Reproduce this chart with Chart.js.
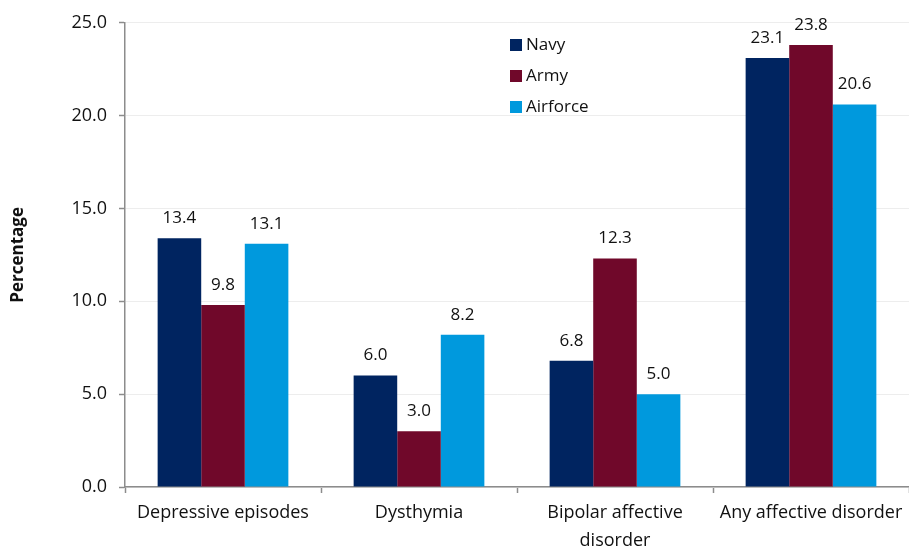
<!DOCTYPE html>
<html>
<head>
<meta charset="utf-8">
<script src="https://cdn.jsdelivr.net/npm/chart.js@4"></script>
<style>
  html, body { margin: 0; padding: 0; background: #fff; }
  #wrap { width: 909px; height: 547px; }
</style>
</head>
<body>
<div id="wrap"><canvas id="affectChart"></canvas></div>
<script>
const categories = ["Depressive episodes", "Dysthymia", ["Bipolar affective", "disorder"], "Any affective disorder"];
const navy = [13.4, 6.0, 6.8, 23.1];
const army = [9.8, 3.0, 12.3, 23.8];
const airforce = [13.1, 8.2, 5.0, 20.6];
const yTicks = [0, 5, 10, 15, 20, 25];

const FONT = "'Open Sans', 'Liberation Sans', sans-serif";

/// Draw value labels above each bar
const valueLabels = {
    id: 'valueLabels',
    afterDatasetsDraw(chart) {
        const ctx = chart.ctx;
        ctx.save();
        ctx.font = '17px ' + FONT;
        ctx.fillStyle = '#111';
        ctx.textAlign = 'center';
        ctx.textBaseline = 'middle';
        chart.data.datasets.forEach((ds, i) => {
            chart.getDatasetMeta(i).data.forEach((bar, j) => {
                ctx.fillText(ds.data[j].toFixed(1), bar.x, bar.y - 20);
            });
        });
        ctx.restore();
    }
};

/// Vertical legend inside the plot
const boxLegend = {
    id: 'boxLegend',
    afterDraw(chart) {
        const ctx = chart.ctx;
        ctx.save();
        ctx.font = '17px ' + FONT;
        ctx.textBaseline = 'middle';
        chart.data.datasets.forEach((ds, i) => {
            const y = 45 + i * 31;
            ctx.fillStyle = ds.backgroundColor;
            ctx.fillRect(510, y - 6, 12, 12);
            ctx.fillStyle = '#111';
            ctx.fillText(ds.label, 526, y);
        });
        ctx.restore();
    }
};

new Chart("affectChart", {
    type: "bar",
    data: {
        labels: categories,
        datasets: [
            { label: "Navy", backgroundColor: "rgb(0, 36, 96)", data: navy },
            { label: "Army", backgroundColor: "rgb(112, 8, 42)", data: army },
            { label: "Airforce", backgroundColor: "rgb(0, 153, 221)", data: airforce }
        ]
    },
    options: {
        responsive: true,
        maintainAspectRatio: false,
        animation: false,
        layout: { padding: { top: 22, right: 0, left: 8, bottom: 0 } },
        datasets: {
            bar: { categoryPercentage: 0.667, barPercentage: 1.0 }
        },
        plugins: {
            legend: { display: false },
            tooltip: { enabled: false }
        },
        scales: {
            x: {
                afterFit(scale) { scale.height = 60; },
                border: { color: '#8c8c8c', width: 1.5 },
                grid: {
                    offset: true,
                    drawOnChartArea: false,
                    drawTicks: true,
                    tickLength: 6,
                    tickColor: '#8c8c8c',
                    tickWidth: 1.5
                },
                ticks: {
                    color: '#111',
                    font: { family: FONT, size: 18, lineHeight: 1.55 },
                    padding: 6,
                    maxRotation: 0,
                    autoSkip: false
                }
            },
            y: {
                min: 0,
                max: 25,
                afterFit(scale) { scale.width = 117; },
                afterBuildTicks(scale) { scale.ticks = yTicks.map(v => ({ value: v })); },
                border: { color: '#8c8c8c', width: 1.5 },
                grid: {
                    color: '#ededed',
                    tickColor: '#8c8c8c',
                    tickLength: 6,
                    tickWidth: 1.5
                },
                ticks: {
                    color: '#111',
                    font: { family: FONT, size: 18 },
                    padding: 12,
                    callback: v => v.toFixed(1)
                },
                title: {
                    display: true,
                    text: 'Percentage',
                    color: '#111',
                    font: { family: FONT, size: 17, weight: 'bold' },
                    padding: { top: 0, bottom: 20 }
                }
            }
        }
    },
    plugins: [valueLabels, boxLegend]
});
</script>
</body>
</html>
